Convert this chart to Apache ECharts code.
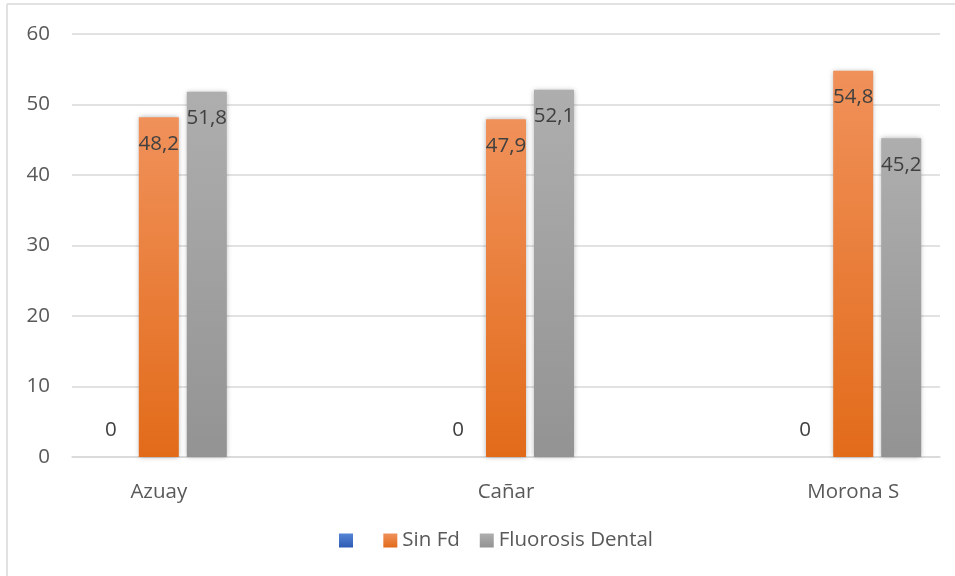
<!DOCTYPE html>
<html>
<head>
<meta charset="utf-8">
<script src="https://cdn.jsdelivr.net/npm/echarts@6/dist/echarts.min.js"></script>
<style>
  html, body { margin: 0; padding: 0; background: #fff; }
  #chart { width: 955px; height: 576px; }
</style>
</head>
<body>
<div id="chart"></div>
<script>
  // datos
  const categories = ['Azuay', 'Cañar', 'Morona S'];
  const blueValues = [0, 0, 0];
  const sinFd = [48.2, 47.9, 54.8];
  const fluorosis = [51.8, 52.1, 45.2];
  const yTicks = [0, 10, 20, 30, 40, 50, 60];

  const font = '"Open Sans", sans-serif';
  const fs = 20.5;
  const chart = echarts.init(document.getElementById('chart'));

  const grad = (top, bottom) => new echarts.graphic.LinearGradient(0, 0, 0, 1, [
    { offset: 0, color: top },
    { offset: 1, color: bottom }
  ]);

  // posiciones de categoria como valores 0,1,2 en un eje numerico
  const toPairs = arr => arr.map((v, i) => [i, v]);
  const fmt = v => String(v).replace('.', ',');

  const barShadow = {
    shadowBlur: 5,
    shadowColor: 'rgba(0,0,0,0.3)'
  };

  const option = {
    backgroundColor: '#fff',
    animation: false,
    textStyle: { fontFamily: font },
    graphic: [
      { type: 'line', shape: { x1: 7, y1: 4, x2: 7, y2: 576 }, style: { stroke: '#D9D9D9', lineWidth: 1.5 } },
      { type: 'line', shape: { x1: 7, y1: 4, x2: 955, y2: 4 }, style: { stroke: '#D9D9D9', lineWidth: 1.5 } }
    ],
    grid: { left: 72, right: 15, top: 34, bottom: 119 },
    legend: {
      bottom: 20,
      left: 334,
      icon: 'rect',
      itemWidth: 14,
      itemHeight: 14,
      itemGap: 20,
      textStyle: { fontFamily: font, fontSize: fs, color: '#595959' },
      data: [' ', 'Sin Fd', 'Fluorosis Dental']
    },
    xAxis: {
      type: 'value',
      min: -0.25,
      max: 2.25,
      interval: 0.25,
      splitLine: { show: false },
      axisTick: { show: false },
      axisLine: { show: true, lineStyle: { color: '#D9D9D9', width: 1.5 } },
      axisLabel: {
        margin: 25,
        fontFamily: font,
        fontSize: fs,
        color: '#595959',
        formatter: v => (Number.isInteger(v) && v >= 0 && v < categories.length) ? categories[v] : ''
      }
    },
    yAxis: {
      type: 'value',
      min: yTicks[0],
      max: yTicks[yTicks.length - 1],
      interval: 10,
      axisLine: { show: false },
      axisTick: { show: false },
      splitLine: { lineStyle: { color: '#D9D9D9', width: 1.5 } },
      axisLabel: { margin: 22, fontFamily: font, fontSize: fs, color: '#595959' }
    },
    series: [
      {
        name: ' ',
        type: 'bar',
        barWidth: 40,
        barGap: '20%',
        data: toPairs(blueValues),
        itemStyle: Object.assign({ color: grad('#5585D6', '#2E5BB3') }, barShadow),
        label: {
          show: true, position: 'top', distance: 16,
          fontFamily: font, fontSize: fs, color: '#404040',
          formatter: p => fmt(p.value[1])
        }
      },
      {
        name: 'Sin Fd',
        type: 'bar',
        barWidth: 40,
        barGap: '20%',
        data: toPairs(sinFd),
        itemStyle: Object.assign({ color: grad('#F0915A', '#E26B1A') }, barShadow),
        label: {
          show: true, position: 'insideTop', distance: 16,
          fontFamily: font, fontSize: fs, color: '#404040',
          formatter: p => fmt(p.value[1])
        }
      },
      {
        name: 'Fluorosis Dental',
        type: 'bar',
        barWidth: 40,
        barGap: '20%',
        data: toPairs(fluorosis),
        itemStyle: Object.assign({ color: grad('#AEAEAE', '#939393') }, barShadow),
        label: {
          show: true, position: 'insideTop', distance: 16,
          fontFamily: font, fontSize: fs, color: '#404040',
          formatter: p => fmt(p.value[1])
        }
      }
    ]
  };

  chart.setOption(option);
  window.addEventListener('resize', function () {
    chart.resize();
  });
</script>
</body>
</html>
